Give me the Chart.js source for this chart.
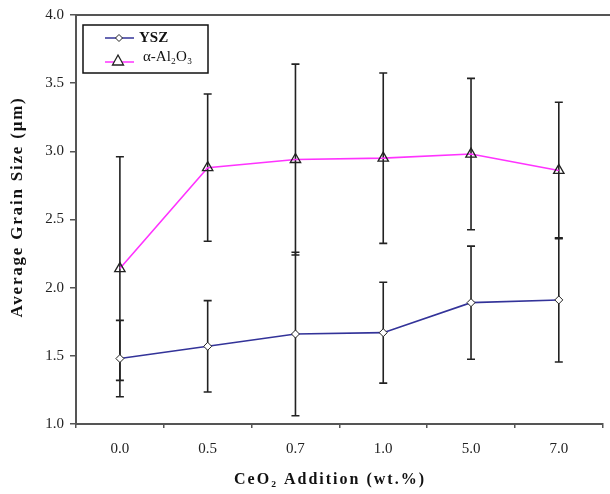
<!DOCTYPE html>
<html>
<head>
<meta charset="utf-8">
<script src="https://cdn.jsdelivr.net/npm/chart.js@4.4.1/dist/chart.umd.min.js"></script>
<style>
html,body{margin:0;padding:0;background:#fff;}
#wrap{width:610px;height:494px;}
</style>
</head>
<body>
<div id="wrap"><canvas id="c" width="610" height="494"></canvas></div>
<script>
const categories = ['0.0', '0.5', '0.7', '1.0', '5.0', '7.0'];
const yszValues = [1.48, 1.57, 1.66, 1.67, 1.89, 1.91];
const yszErrors = [0.28, 0.335, 0.60, 0.37, 0.415, 0.455];
const aluminaValues = [2.14, 2.88, 2.94, 2.95, 2.98, 2.86];
const aluminaErrors = [0.82, 0.54, 0.70, 0.625, 0.555, 0.50];
const yTickMin = 1.0, yTickMax = 4.0, yTickStep = 0.5;
const yszLabel = 'YSZ';
const aluminaLabel = 'α-Al₂O₃';
const xTitle = 'CeO₂ Addition (wt.%)';
const yTitle = 'Average Grain Size (μm)';

const SERIF = '"Liberation Serif", "Times New Roman", "DejaVu Serif", serif';
const YSZ_COLOR = '#333399';
const AL_COLOR = '#ff33ff';

const errorBarPlugin = {
  id: 'errorBars',
  beforeDatasetsDraw(chart) {
    const ctx = chart.ctx;
    const x = chart.scales.x, y = chart.scales.y;
    const sets = [[yszValues, yszErrors], [aluminaValues, aluminaErrors]];
    ctx.save();
    ctx.strokeStyle = '#222';
    ctx.lineWidth = 1.6;
    sets.forEach(([vals, errs]) => {
      vals.forEach((v, i) => {
        const px = x.getPixelForValue(i);
        const top = y.getPixelForValue(v + errs[i]);
        const bot = y.getPixelForValue(v - errs[i]);
        ctx.beginPath();
        ctx.moveTo(px, top); ctx.lineTo(px, bot);
        ctx.moveTo(px - 4, top); ctx.lineTo(px + 4, top);
        ctx.moveTo(px - 4, bot); ctx.lineTo(px + 4, bot);
        ctx.stroke();
      });
    });
    ctx.restore();
  },
  afterDraw(chart) {
    const ctx = chart.ctx;
    const a = chart.chartArea;
    ctx.save();
    // top border
    ctx.strokeStyle = '#555';
    ctx.lineWidth = 2;
    ctx.beginPath();
    ctx.moveTo(a.left, a.top); ctx.lineTo(chart.width, a.top);
    ctx.stroke();
    // legend box
    const lx = 83, ly = 25, lw = 125, lh = 48;
    ctx.fillStyle = '#fff';
    ctx.fillRect(lx, ly, lw, lh);
    ctx.strokeStyle = '#111';
    ctx.lineWidth = 1.5;
    ctx.strokeRect(lx, ly, lw, lh);
    // YSZ sample
    ctx.strokeStyle = YSZ_COLOR;
    ctx.lineWidth = 1.5;
    ctx.beginPath(); ctx.moveTo(105, 38); ctx.lineTo(134, 38); ctx.stroke();
    ctx.strokeStyle = '#222'; ctx.fillStyle = '#fff'; ctx.lineWidth = 1;
    ctx.beginPath();
    ctx.moveTo(119, 34.5); ctx.lineTo(122.5, 38); ctx.lineTo(119, 41.5); ctx.lineTo(115.5, 38); ctx.closePath();
    ctx.fill(); ctx.stroke();
    // Al2O3 sample
    ctx.strokeStyle = AL_COLOR; ctx.lineWidth = 1.5;
    ctx.beginPath(); ctx.moveTo(105, 62); ctx.lineTo(134, 62); ctx.stroke();
    ctx.strokeStyle = '#222'; ctx.fillStyle = '#fff'; ctx.lineWidth = 1.3;
    ctx.beginPath();
    ctx.moveTo(118, 55); ctx.lineTo(123.5, 65); ctx.lineTo(112.5, 65); ctx.closePath();
    ctx.fill(); ctx.stroke();
    // legend texts
    ctx.fillStyle = '#111';
    ctx.textBaseline = 'middle';
    ctx.textAlign = 'left';
    ctx.font = 'bold 15px ' + SERIF;
    ctx.fillText(yszLabel, 139, 38);
    ctx.font = '15px ' + SERIF;
    ctx.fillText(aluminaLabel, 143, 57);
    // axis titles with letter spacing
    ctx.textAlign = 'center';
    ctx.fillStyle = '#111';
    ctx.font = 'bold 16px ' + SERIF;
    try { ctx.letterSpacing = '2px'; } catch (e) {}
    ctx.fillText(xTitle, 330, 480);
    ctx.save();
    ctx.translate(18, 207);
    ctx.rotate(-Math.PI / 2);
    ctx.font = 'bold 17px ' + SERIF;
    try { ctx.letterSpacing = '1.8px'; } catch (e) {}
    ctx.fillText(yTitle, 0, 0);
    ctx.restore();
    ctx.restore();
  }
};

new Chart(document.getElementById('c'), {
  type: 'line',
  data: {
    labels: categories,
    datasets: [
      {
        label: yszLabel,
        data: yszValues,
        borderColor: YSZ_COLOR,
        borderWidth: 1.6,
        pointStyle: 'rectRot',
        pointRadius: 4,
        pointBorderColor: '#222',
        pointBackgroundColor: '#fff',
        pointBorderWidth: 1,
        tension: 0
      },
      {
        label: aluminaLabel,
        data: aluminaValues,
        borderColor: AL_COLOR,
        borderWidth: 1.6,
        pointStyle: 'triangle',
        pointRadius: 6,
        pointBorderColor: '#222',
        pointBackgroundColor: 'rgba(255,255,255,0)',
        pointBorderWidth: 1.3,
        tension: 0
      }
    ]
  },
  options: {
    responsive: false,
    animation: false,
    layout: { padding: { top: 15, right: 2, left: 0, bottom: 0 } },
    plugins: { legend: { display: false }, tooltip: { enabled: false } },
    scales: {
      x: {
        type: 'category',
        offset: true,
        afterFit(s) { s.height = 70; },
        grid: { offset: true, drawOnChartArea: false, drawTicks: true, tickLength: 4, color: '#555', lineWidth: 1.5 },
        border: { display: true, color: '#555', width: 2 },
        ticks: { color: '#222', font: { family: SERIF, size: 15 }, padding: 12 },
        title: { display: false }
      },
      y: {
        min: yTickMin, max: yTickMax,
        afterFit(s) { s.width = 76; },
        afterBuildTicks(s) {
          const t = [];
          for (let v = yTickMin; v <= yTickMax + 1e-9; v += yTickStep) t.push({ value: +v.toFixed(2) });
          s.ticks = t;
        },
        grid: { drawOnChartArea: false, drawTicks: true, tickLength: 6, color: '#555', lineWidth: 1.5 },
        border: { display: true, color: '#555', width: 2 },
        ticks: {
          color: '#222', font: { family: SERIF, size: 15 }, padding: 6,
          callback: v => Number(v).toFixed(1)
        },
        title: { display: false }
      }
    }
  },
  plugins: [errorBarPlugin]
});
</script>
</body>
</html>
